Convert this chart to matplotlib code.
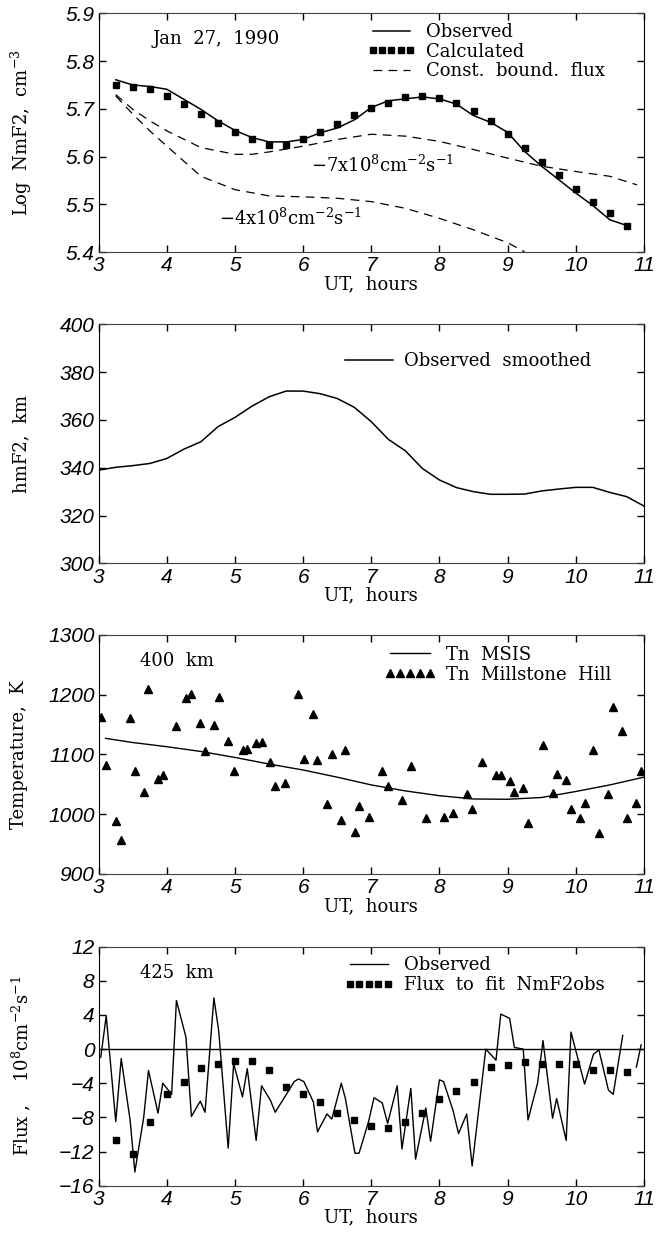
import numpy as np
import matplotlib
matplotlib.use("Agg")
import matplotlib.pyplot as plt

plt.rcParams['font.family'] = ['DejaVu Serif']
plt.rcParams['mathtext.fontset'] = 'dejavuserif'

# ---- panel 1: log NmF2 ----
ut_q = [3.25, 3.5, 3.75, 4.0, 4.25, 4.5, 4.75, 5.0, 5.25, 5.5, 5.75, 6.0, 6.25, 6.5, 6.75,
        7.0, 7.25, 7.5, 7.75, 8.0, 8.25, 8.5, 8.75, 9.0, 9.25, 9.5, 9.75, 10.0, 10.25, 10.5, 10.75]
nm_obs = [5.761, 5.750, 5.747, 5.741, 5.720, 5.699, 5.675, 5.655, 5.640, 5.631, 5.631, 5.636,
          5.650, 5.660, 5.677, 5.703, 5.717, 5.721, 5.725, 5.721, 5.710, 5.686, 5.672, 5.651,
          5.611, 5.580, 5.552, 5.524, 5.498, 5.468, 5.456]
nm_calc = [5.751, 5.745, 5.741, 5.728, 5.710, 5.689, 5.670, 5.651, 5.636, 5.625, 5.625, 5.637,
           5.652, 5.669, 5.687, 5.701, 5.713, 5.724, 5.728, 5.723, 5.712, 5.696, 5.675, 5.648,
           5.618, 5.589, 5.561, 5.533, 5.506, 5.482, 5.454]
ut_f7 = [3.25, 3.5, 3.75, 4.0, 4.5, 5.0, 5.25, 5.5, 6.0, 6.5, 7.0, 7.5, 8.0, 8.5, 9.0, 9.5, 10.0, 10.5, 10.9]
nm_f7 = [5.730, 5.699, 5.675, 5.654, 5.619, 5.605, 5.605, 5.610, 5.622, 5.636, 5.647, 5.643,
         5.632, 5.615, 5.597, 5.580, 5.569, 5.559, 5.541]
ut_f4 = [3.25, 3.5, 3.75, 4.0, 4.5, 5.0, 5.5, 6.0, 6.5, 7.0, 7.5, 8.0, 8.5, 9.0, 9.25]
nm_f4 = [5.727, 5.689, 5.654, 5.622, 5.559, 5.531, 5.518, 5.516, 5.513, 5.506, 5.492, 5.471,
         5.447, 5.420, 5.401]

# ---- panel 2: hmF2 ----
ut_h = [3.0, 3.25, 3.5, 3.75, 4.0, 4.25, 4.5, 4.75, 5.0, 5.25, 5.5, 5.75, 6.0, 6.25, 6.5, 6.75,
        7.0, 7.25, 7.5, 7.75, 8.0, 8.25, 8.5, 8.75, 9.0, 9.25, 9.5, 9.75, 10.0, 10.25, 10.5, 10.75, 11.0]
hmf2 = [339.0, 340.2, 340.9, 341.8, 343.9, 347.8, 350.9, 357.2, 361.1, 365.8, 369.7, 372.1, 372.1,
        371.0, 369.0, 365.3, 359.3, 351.9, 347.1, 339.7, 334.9, 331.7, 330.0, 328.9, 328.9, 329.0,
        330.3, 331.1, 331.8, 331.8, 329.7, 327.9, 324.0]

# ---- panel 3: temperature ----
ut_msis = [3.1, 3.5, 4.0, 4.5, 5.0, 5.5, 6.0, 6.5, 7.0, 7.5, 8.0, 8.5, 9.0, 9.5, 10.0, 10.5, 11.0]
tn_msis = [1127, 1120, 1113, 1105, 1095, 1084, 1074, 1062, 1049, 1039, 1031, 1025.5, 1025, 1028,
           1038, 1049, 1062]
ut_mh = [3.03, 3.11, 3.25, 3.33, 3.46, 3.53, 3.66, 3.73, 3.87, 3.94, 4.14, 4.28, 4.36, 4.49, 4.56,
         4.69, 4.76, 4.90, 4.98, 5.11, 5.18, 5.31, 5.39, 5.52, 5.59, 5.73, 5.93, 6.01, 6.15, 6.21,
         6.35, 6.42, 6.56, 6.62, 6.76, 6.82, 6.96, 7.16, 7.24, 7.45, 7.58, 7.80, 8.06, 8.20, 8.40,
         8.48, 8.62, 8.83, 8.90, 9.03, 9.10, 9.23, 9.30, 9.52, 9.66, 9.72, 9.86, 9.93, 10.06, 10.13,
         10.26, 10.34, 10.48, 10.55, 10.68, 10.75, 10.89, 10.96]
tn_mh = [1163, 1082, 989, 956, 1161, 1072, 1037, 1210, 1059, 1065, 1148, 1194, 1202, 1152, 1105,
         1149, 1197, 1123, 1072, 1108, 1109, 1120, 1121, 1087, 1047, 1052, 1202, 1093, 1167, 1091,
         1017, 1101, 990, 1108, 970, 1014, 996, 1073, 1048, 1024, 1081, 994, 995, 1002, 1034,
         1009, 1088, 1066, 1066, 1055, 1038, 1044, 985, 1116, 1036, 1067, 1058, 1009, 994, 1018,
         1108, 969, 1033, 1180, 1140, 994, 1019, 1072]

# ---- panel 4: flux ----
ut_fx = [3.03, 3.11, 3.25, 3.33, 3.46, 3.53, 3.66, 3.73, 3.87, 3.94, 4.07, 4.14, 4.28, 4.36, 4.49,
         4.56, 4.69, 4.76, 4.90, 4.98, 5.11, 5.18, 5.31, 5.39, 5.52, 5.59, 5.73, 5.87, 5.93, 6.01,
         6.15, 6.21, 6.35, 6.42, 6.56, 6.62, 6.76, 6.82, 6.96, 7.04, 7.16, 7.24, 7.38, 7.45, 7.58,
         7.65, 7.80, 7.87, 8.00, 8.06, 8.20, 8.28, 8.40, 8.48, 8.68, 8.83, 8.90, 9.03, 9.10, 9.23,
         9.30, 9.44, 9.52, 9.66, 9.72, 9.86, 9.93, 10.13, 10.26, 10.34, 10.48, 10.55, 10.69, 10.8,
         10.89, 10.96]
flux_obs = [-0.95, 3.9, -8.5, -1.1, -8.3, -14.4, -8.0, -2.5, -7.5, -4.0, -5.3, 5.7, 1.4, -7.9, -6.1,
            -7.4, 6.0, 2.2, -11.6, -1.7, -5.6, -2.3, -10.7, -4.3, -6.0, -7.4, -5.6, -3.8, -3.5, -3.8,
            -6.2, -9.7, -7.6, -8.2, -4.0, -5.8, -12.2, -12.2, -8.5, -5.7, -6.3, -8.7, -4.3, -11.7, -4.6,
            -12.9, -6.9, -10.8, -3.6, -3.8, -7.2, -9.9, -7.6, -13.7, 0.0, -1.3, 4.1, 3.6, 0.2, 0.0,
            -8.3, -4.0, 1.0, -8.1, -5.8, -10.7, 2.0, -4.1, -0.6, -0.1, -4.8, -5.3, 1.6, np.nan,
            -2.1, 0.5]
ut_fit = [3.25, 3.5, 3.75, 4.0, 4.25, 4.5, 4.75, 5.0, 5.25, 5.5, 5.75, 6.0, 6.25, 6.5, 6.75, 7.0,
          7.25, 7.5, 7.75, 8.0, 8.25, 8.5, 8.75, 9.0, 9.25, 9.5, 9.75, 10.0, 10.25, 10.5, 10.75]
flux_fit = [-10.6, -12.3, -8.5, -5.3, -3.8, -2.2, -1.8, -1.4, -1.4, -2.4, -4.4, -5.3, -6.2, -7.5,
            -8.3, -9.0, -9.3, -8.5, -7.5, -5.8, -4.9, -3.8, -2.1, -1.9, -1.5, -1.7, -1.7, -1.7,
            -2.5, -2.5, -2.7]

tick_font = dict(family=['Liberation Sans Narrow', 'Liberation Sans'], style='italic', size=15)
FS = 13


def style_axes(ax, ylim, yticks, ylabel, ylab_x):
    ax.set_xlim(3, 11)
    ax.set_ylim(*ylim)
    ax.set_xticks(range(3, 12))
    ax.set_yticks(yticks)
    ax.tick_params(direction='in', top=True, right=True, length=5, width=1, pad=3)
    for lab in ax.get_xticklabels() + ax.get_yticklabels():
        lab.set_fontproperties(matplotlib.font_manager.FontProperties(**tick_font))
    for s in ('top', 'bottom'):
        ax.spines[s].set_linestyle((0, (1, 1)))
        ax.spines[s].set_color('0.25')
    ax.set_xlabel('UT,  hours', fontsize=FS, labelpad=0)
    ax.set_ylabel(ylabel, fontsize=FS)
    ax.yaxis.set_label_coords(ylab_x, 0.5)


fig = plt.figure(figsize=(6.56, 12.33), dpi=100)
L, W, H = 0.1505, 0.831, 0.1938
ax1 = fig.add_axes([L, 0.7954, W, H])
ax2 = fig.add_axes([L, 0.5431, W, H])
ax3 = fig.add_axes([L, 0.2912, W, H])
ax4 = fig.add_axes([L, 0.0384, W, H])

leg_kw = dict(frameon=False, loc='upper left', borderpad=0, borderaxespad=0,
              labelspacing=0.1, handletextpad=0.6, fontsize=FS)

# panel 1
ax1.plot(ut_q, nm_obs, color='black', lw=1.1, label='Observed')
ax1.plot(ut_q, nm_calc, ls='none', marker='s', ms=5, color='black', label='Calculated')
ax1.plot(ut_f7, nm_f7, color='black', lw=0.9, dashes=(7, 5), label='Const.  bound.  flux')
ax1.plot(ut_f4, nm_f4, color='black', lw=0.9, dashes=(7, 5))
style_axes(ax1, (5.4, 5.9), [5.4, 5.5, 5.6, 5.7, 5.8, 5.9], 'Log  NmF2,  cm$^{-3}$', -0.118)
ax1.yaxis.set_major_formatter(matplotlib.ticker.FormatStrFormatter('%.1f'))
ax1.legend(bbox_to_anchor=(0.494, 0.96), handlelength=2.6, numpoints=5, **leg_kw)
ax1.text(0.099, 0.892, 'Jan  27,  1990', transform=ax1.transAxes, fontsize=FS, va='center')
ax1.text(6.12, 5.583, r'$-$7x10$^{8}$cm$^{-2}$s$^{-1}$', fontsize=FS, va='center')
ax1.text(4.77, 5.472, r'$-$4x10$^{8}$cm$^{-2}$s$^{-1}$', fontsize=FS, va='center')

# panel 2
ax2.plot(ut_h, hmf2, color='black', lw=1.1, label='Observed  smoothed')
style_axes(ax2, (300, 400), range(300, 401, 20), 'hmF2,  km', -0.125)
ax2.legend(bbox_to_anchor=(0.451, 0.885), handlelength=2.7, **leg_kw)

# panel 3
ax3.plot(ut_msis, tn_msis, color='black', lw=1.0, label='Tn  MSIS')
ax3.plot(ut_mh, tn_mh, ls='none', marker='^', ms=6, color='black', label='Tn  Millstone  Hill')
style_axes(ax3, (900, 1300), range(900, 1301, 100), 'Temperature,  K', -0.13)
ax3.legend(bbox_to_anchor=(0.524, 0.955), handlelength=2.8, numpoints=5, **leg_kw)
ax3.text(0.076, 0.891, '400  km', transform=ax3.transAxes, fontsize=FS, va='center')

# panel 4
ax4.axhline(0, color='black', lw=1.0)
ax4.plot(ut_fx, flux_obs, color='black', lw=1.0, label='Observed')
ax4.plot(ut_fit, flux_fit, ls='none', marker='s', ms=5, color='black', label='Flux  to  fit  NmF2obs')
style_axes(ax4, (-16, 12), range(-16, 13, 4), r'Flux ,    10$^{8}$cm$^{-2}$s$^{-1}$', -0.12)
ax4.legend(bbox_to_anchor=(0.451, 0.96), handlelength=2.7, numpoints=5, **leg_kw)
ax4.text(0.076, 0.892, '425  km', transform=ax4.transAxes, fontsize=FS, va='center')

fig.savefig('out.png', dpi=100)
